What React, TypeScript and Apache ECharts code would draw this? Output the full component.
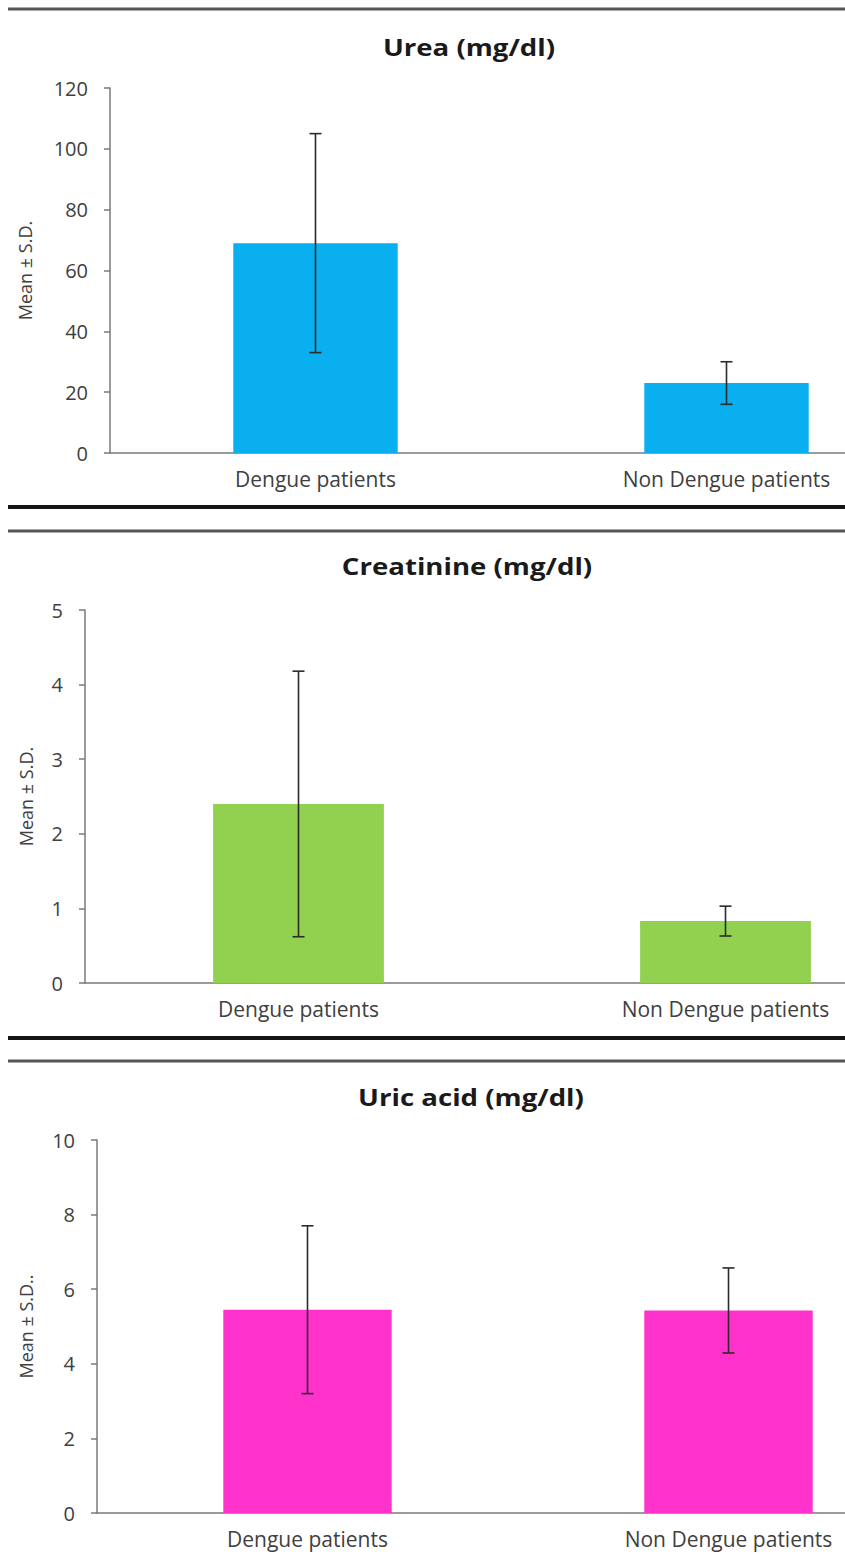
import React, { useEffect, useRef } from "react";
import * as echarts from "echarts";

const categories = ["Dengue patients", "Non Dengue patients"];

const panelTitles = ["Urea (mg/dl)", "Creatinine (mg/dl)", "Uric acid (mg/dl)"];
const yAxisNames = ["Mean \u00B1 S.D.", "Mean \u00B1 S.D.", "Mean \u00B1 S.D.."];

const ureaMean = [69, 23];
const ureaSD = [36, 7];
const creatinineMean = [2.4, 0.83];
const creatinineSD = [1.78, 0.2];
const uricMean = [5.45, 5.43];
const uricSD = [2.25, 1.14];

const yMax = [120, 5, 10];
const yInterval = [20, 1, 2];

const barColors = ["#0AAFEF", "#92D050", "#FF33CC"];

const FONT = "'Open Sans', 'Noto Sans', sans-serif";

export default function App() {
  const ref = useRef<HTMLDivElement>(null);

  useEffect(() => {
    if (!ref.current) return;
    const chart = echarts.init(ref.current, undefined, { renderer: "svg" });

    const means = [ureaMean, creatinineMean, uricMean];
    const sds = [ureaSD, creatinineSD, uricSD];

    // layout of the three panels (plots run past the right edge, as in the cropped original)
    const grids = [
      { left: 110, top: 88, height: 365, width: 822 },
      { left: 85, top: 610, height: 373, width: 854 },
      { left: 97, top: 1140, height: 373, width: 842 },
    ];
    const nameGaps = [76, 50, 62];
    const titleY = [47, 566, 1097];
    const titleX = [469, 467, 471];

    const xAxis: any[] = [];
    const yAxis: any[] = [];
    const series: any[] = [];

    grids.forEach((_, i) => {
      xAxis.push({
        type: "category",
        gridIndex: i,
        data: categories,
        axisLine: { show: true, lineStyle: { color: "#7a7a7a", width: 1.5 } },
        axisTick: { show: false },
        axisLabel: {
          fontFamily: FONT,
          fontSize: 21,
          color: "#404040",
          margin: 15,
        },
      });
      yAxis.push({
        type: "value",
        gridIndex: i,
        min: 0,
        max: yMax[i],
        interval: yInterval[i],
        name: yAxisNames[i],
        nameLocation: "middle",
        nameGap: nameGaps[i],
        nameTextStyle: { fontFamily: FONT, fontSize: 18, color: "#404040" },
        axisLine: { show: true, lineStyle: { color: "#7a7a7a", width: 1.5 } },
        axisTick: {
          show: true,
          length: 6,
          inside: false,
          lineStyle: { color: "#7a7a7a", width: 1.5 },
        },
        splitLine: { show: false },
        axisLabel: {
          fontFamily: FONT,
          fontSize: 20,
          color: "#404040",
          margin: 22,
        },
      });
      series.push({
        type: "bar",
        xAxisIndex: i,
        yAxisIndex: i,
        data: means[i],
        barWidth: "40%",
        itemStyle: { color: barColors[i] },
        z: 2,
      });
      series.push({
        type: "custom",
        xAxisIndex: i,
        yAxisIndex: i,
        z: 5,
        data: means[i].map((m, k) => [k, m - sds[i][k], m + sds[i][k]]),
        encode: { x: 0, y: [1, 2] },
        renderItem: (params: any, api: any) => {
          const idx = api.value(0);
          const lo = api.coord([idx, api.value(1)]);
          const hi = api.coord([idx, api.value(2)]);
          const half = 6;
          const style = { stroke: "#2b2b2b", lineWidth: 1.6 };
          return {
            type: "group",
            children: [
              { type: "line", shape: { x1: lo[0], y1: lo[1], x2: hi[0], y2: hi[1] }, style },
              { type: "line", shape: { x1: hi[0] - half, y1: hi[1], x2: hi[0] + half, y2: hi[1] }, style },
              { type: "line", shape: { x1: lo[0] - half, y1: lo[1], x2: lo[0] + half, y2: lo[1] }, style },
            ],
          };
        },
      });
    });

    const graphic: any[] = [];
    const thinLines = [9, 531, 1061];
    const thickLines = [507, 1038];
    thinLines.forEach((y) =>
      graphic.push({
        type: "line",
        shape: { x1: 8, y1: y, x2: 845, y2: y },
        style: { stroke: "#555555", lineWidth: 3 },
      })
    );
    thickLines.forEach((y) =>
      graphic.push({
        type: "line",
        shape: { x1: 8, y1: y, x2: 845, y2: y },
        style: { stroke: "#151515", lineWidth: 4 },
      })
    );
    panelTitles.forEach((t, i) =>
      graphic.push({
        type: "text",
        x: titleX[i],
        y: titleY[i],
        scaleX: 1.15,
        style: {
          text: t,
          fontFamily: FONT,
          fontSize: 24,
          fontWeight: "bold",
          fill: "#1a1a1a",
          textAlign: "center",
          textVerticalAlign: "middle",
        },
      })
    );

    chart.setOption({
      animation: false,
      backgroundColor: "#ffffff",
      grid: grids.map((g) => ({ ...g, containLabel: false })),
      xAxis,
      yAxis,
      series,
      graphic,
    });

    return () => chart.dispose();
  }, []);

  return (
    <div
      style={{
        position: "absolute",
        left: 0,
        top: 0,
        width: 845,
        height: 1561,
        overflow: "hidden",
        background: "#ffffff",
      }}
    >
      <div ref={ref} style={{ width: 960, height: 1561 }} />
    </div>
  );
}
